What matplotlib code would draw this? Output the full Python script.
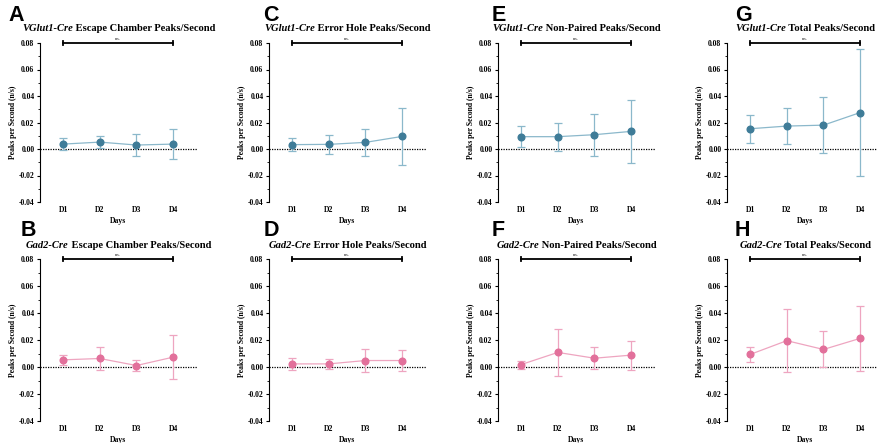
import matplotlib
matplotlib.use("Agg")
import matplotlib.pyplot as plt
from matplotlib.ticker import MultipleLocator

# ---------------- data ----------------
days = ["D1", "D2", "D3", "D4"]

# VGlut1-Cre (top row)
vg_escape_mean = [0.0037, 0.0052, 0.0030, 0.0037]
vg_escape_err = [0.0044, 0.0045, 0.0083, 0.0113]
vg_error_mean = [0.0033, 0.0035, 0.0050, 0.0095]
vg_error_err = [0.0049, 0.0071, 0.0100, 0.0215]
vg_nonpaired_mean = [0.0093, 0.0093, 0.0108, 0.0133]
vg_nonpaired_err = [0.0079, 0.0105, 0.0159, 0.0240]
vg_total_mean = [0.0153, 0.0173, 0.0180, 0.0275]
vg_total_err = [0.0104, 0.0135, 0.0210, 0.0478]

# Gad2-Cre (bottom row)
gad_escape_mean = [0.0053, 0.0063, 0.0011, 0.0073]
gad_escape_err = [0.0036, 0.0087, 0.0043, 0.0165]
gad_error_mean = [0.0023, 0.0023, 0.0048, 0.0048]
gad_error_err = [0.0043, 0.0037, 0.0082, 0.0075]
gad_nonpaired_mean = [0.0018, 0.0108, 0.0065, 0.0088]
gad_nonpaired_err = [0.0030, 0.0176, 0.0080, 0.0107]
gad_total_mean = [0.0093, 0.0195, 0.0130, 0.0212]
gad_total_err = [0.0055, 0.0235, 0.0133, 0.0240]

letters = ["A", "C", "E", "G", "B", "D", "F", "H"]
genotypes = ["VGlut1-Cre", "Gad2-Cre"]
measures = ["Escape Chamber Peaks/Second", "Error Hole Peaks/Second",
            "Non-Paired Peaks/Second", "Total Peaks/Second"]
y_ticks = [-0.04, -0.02, 0.00, 0.02, 0.04, 0.06, 0.08]
y_label = "Peaks per Second (n/s)"
x_label = "Days"
sig_label = "n.s."

means = [[vg_escape_mean, vg_error_mean, vg_nonpaired_mean, vg_total_mean],
         [gad_escape_mean, gad_error_mean, gad_nonpaired_mean, gad_total_mean]]
errs = [[vg_escape_err, vg_error_err, vg_nonpaired_err, vg_total_err],
        [gad_escape_err, gad_error_err, gad_nonpaired_err, gad_total_err]]

# ---------------- style ----------------
W, H = 877, 443
fig = plt.figure(figsize=(W / 100, H / 100), dpi=100)
serif = "Liberation Serif"
mark_col = ["#3f7c98", "#e2709b"]
line_col = ["#8bb8cb", "#eea5c0"]

lefts = [40, 269, 498, 727]
ax_w = 157
row_top = [43, 259]
row_bot = [202, 421]
letter_x = [[8, 263, 492, 735], [21, 264, 492, 735]]
letter_base = [21, 236]
title_base = [31, 248]

xs = [1, 2, 3, 4]
renderer = fig.canvas.get_renderer()

for r in range(2):
    for c in range(4):
        l = lefts[c]
        ax = fig.add_axes([l / W, 1 - row_bot[r] / H, ax_w / W,
                           (row_bot[r] - row_top[r]) / H])
        ax.set_xlim(0.37, 4.65)
        ax.set_ylim(-0.04, 0.08)
        for s in ["top", "right", "bottom"]:
            ax.spines[s].set_visible(False)
        ax.spines["left"].set_linewidth(0.8)
        ax.set_yticks(y_ticks)
        ax.set_yticklabels([f"{v:.2f}" for v in y_ticks])
        ax.yaxis.set_minor_locator(MultipleLocator(0.01))
        ax.tick_params(axis="y", which="major", length=2.5, width=0.8, pad=1.5)
        ax.tick_params(axis="y", which="minor", length=1.5, width=0.6)
        ax.set_xticks(xs)
        ax.set_xticklabels(days)
        ax.tick_params(axis="x", length=0, pad=3)
        for lab in ax.get_yticklabels() + ax.get_xticklabels():
            lab.set_fontfamily(serif)
            lab.set_fontweight("bold")
            lab.set_fontsize(5.5)
        ax.set_ylabel(y_label, fontfamily=serif, fontweight="bold",
                      fontsize=5.5, labelpad=1)
        ax.set_xlabel(x_label, fontfamily=serif, fontweight="bold",
                      fontsize=5.5, labelpad=2)
        ax.axhline(0, color="black", linestyle=(0, (1, 1)), linewidth=0.9,
                   zorder=1)
        ax.errorbar(xs, means[r][c], yerr=errs[r][c], color=line_col[r],
                    ecolor=line_col[r], elinewidth=0.9, capsize=3,
                    capthick=0.9, linewidth=0.9, marker="o", markersize=4.8,
                    markerfacecolor=mark_col[r], markeredgecolor=mark_col[r],
                    zorder=3)
        # significance bar
        ax.plot([1, 4], [0.08, 0.08], color="black", linewidth=1.3,
                clip_on=False, zorder=4)
        for xe in (1, 4):
            ax.plot([xe, xe], [0.0785, 0.0815], color="black",
                    linewidth=1.3, clip_on=False, zorder=4)
        ax.text(2.5, 0.0815, sig_label, ha="center", va="bottom",
                fontsize=3, fontfamily=serif)

        # panel letter
        fig.text(letter_x[r][c] / W, 1 - letter_base[r] / H, letters[r * 4 + c],
                 fontfamily="Liberation Sans", fontweight="bold",
                 fontsize=15.5, va="baseline", ha="left")
        # title with italic genotype
        t1 = fig.text(0, 1 - title_base[r] / H, genotypes[r], fontfamily=serif,
                      fontweight="bold", fontstyle="italic", fontsize=7.6,
                      va="baseline")
        t2 = fig.text(0, 1 - title_base[r] / H, " " + measures[c],
                      fontfamily=serif, fontweight="bold", fontsize=7.6,
                      va="baseline")
        w1 = t1.get_window_extent(renderer).width
        w2 = t2.get_window_extent(renderer).width
        cx = l + ax_w / 2
        x0 = cx - (w1 + w2) / 2
        t1.set_x(x0 / W)
        t2.set_x((x0 + w1) / W)

fig.savefig("out.png", dpi=100)
